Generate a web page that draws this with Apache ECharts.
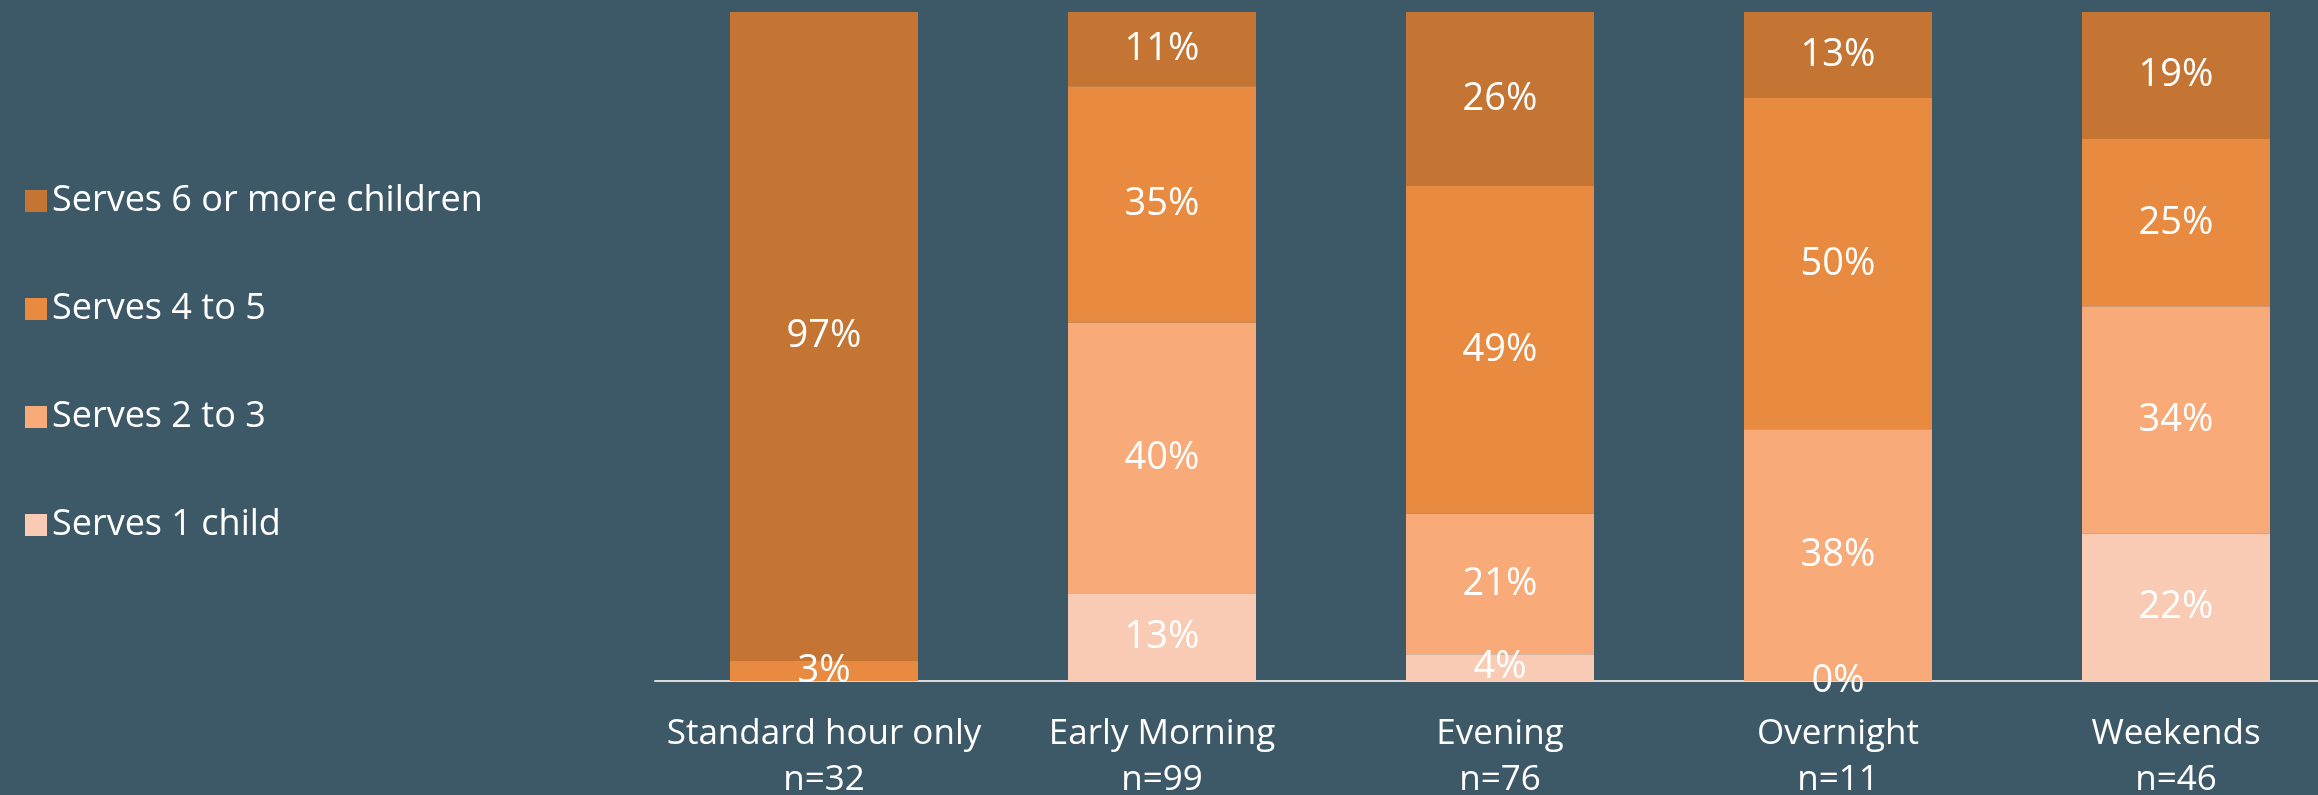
<!DOCTYPE html>
<html>
<head>
<meta charset="utf-8">
<script src="https://cdn.jsdelivr.net/npm/echarts@6/dist/echarts.min.js"></script>
<style>
  html, body { margin: 0; padding: 0; background: #3d5866; }
  #chart { width: 2318px; height: 795px; }
</style>
</head>
<body>
<div id="chart"></div>
<script>
// categories (x axis, two lines each)
const categories = ['Standard hour only', 'Early Morning', 'Evening', 'Overnight', 'Weekends']
const sampleSizes = [32, 99, 76, 11, 46]

// shown percentages per group (null = not shown for that column)
const serves1 = [null, 13, 4, 0, 22]
const serves2to3 = [null, 40, 21, 38, 34]
const serves4to5 = [3, 35, 49, 50, 25]
const serves6plus = [97, 11, 26, 13, 19]

const seriesNames = ['Serves 1 child', 'Serves 2 to 3', 'Serves 4 to 5', 'Serves 6 or more children']
const seriesColors = ['#f9cbb4', '#f8aa78', '#e88b41', '#c47533']
const allValues = [serves1, serves2to3, serves4to5, serves6plus]

// 100% stacked: each column is scaled to its own total
const totals = categories.map((c, i) =>
  allValues.reduce((s, arr) => s + (arr[i] == null ? 0 : arr[i]), 0))

const fontFamily = '"Open Sans", Lato, sans-serif'

let chart = echarts.init(document.getElementById('chart'))
const option = {
  backgroundColor: '#3d5866',
  animation: false,
  legend: {
    orient: 'vertical',
    left: 20,
    top: 178,
    itemWidth: 22,
    itemHeight: 22,
    itemGap: 72,
    icon: 'rect',
    data: seriesNames.slice().reverse(),
    textStyle: { color: '#ffffff', fontSize: 36, lineHeight: 32, fontFamily: fontFamily, padding: [0, 0, 0, 0] }
  },
  grid: {
    left: 655,
    right: -27,
    top: 12,
    bottom: 114,
    outerBoundsMode: 'none'
  },
  xAxis: {
    type: 'category',
    data: categories.map((c, i) => c + '\nn=' + sampleSizes[i]),
    axisTick: { show: false },
    axisLine: { lineStyle: { color: '#d9d9d9', width: 2 } },
    axisLabel: {
      color: '#ffffff',
      fontSize: 35,
      lineHeight: 46,
      margin: 30,
      fontFamily: fontFamily,
      interval: 0
    }
  },
  yAxis: {
    type: 'value',
    min: 0,
    max: 100,
    show: false,
    splitLine: { show: false }
  },
  series: allValues.map((arr, k) => ({
    name: seriesNames[k],
    type: 'bar',
    stack: 'total',
    barWidth: 188,
    itemStyle: { color: seriesColors[k] },
    z: 10 - k,
    data: arr.map((v, i) => v == null ? null : { value: v / totals[i] * 100, shown: v }),
    label: {
      show: true,
      position: 'inside',
      color: '#ffffff',
      fontSize: 38,
      fontFamily: fontFamily,
      formatter: p => p.data == null ? '' : p.data.shown + '%'
    }
  }))
}
chart.setOption(option)
</script>
</body>
</html>
